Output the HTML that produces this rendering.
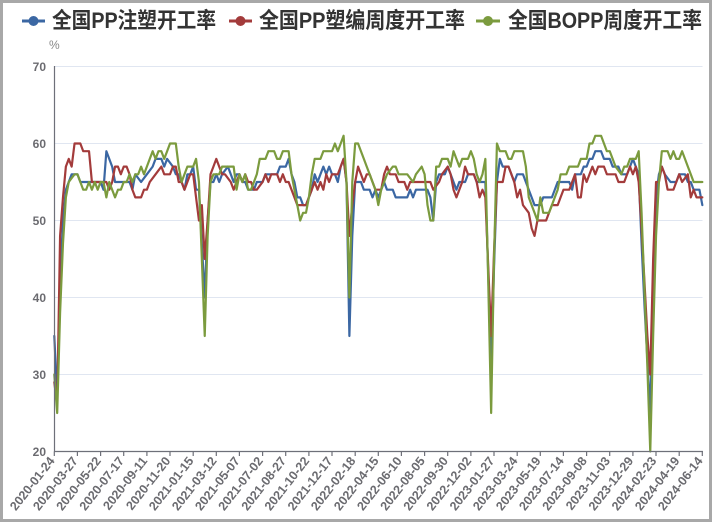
<!DOCTYPE html>
<html><head><meta charset="utf-8"><style>
html,body{margin:0;padding:0;background:#fff;}
svg{display:block;}
.yl{font-family:"Liberation Sans",sans-serif;font-size:12px;font-weight:bold;fill:#6b6b70;}
.xl{font-family:"Liberation Sans",sans-serif;font-size:12.5px;font-weight:bold;fill:#6b6b70;}
.lg{font-family:"Liberation Sans","Noto Sans CJK SC",sans-serif;font-size:22px;font-weight:bold;fill:#333;}
.s{fill:none;stroke-width:2.2;stroke-linejoin:round;stroke-linecap:round;vector-effect:non-scaling-stroke;}
</style></head><body>
<svg width="712" height="522" viewBox="0 0 712 522" xmlns="http://www.w3.org/2000/svg">
<rect x="0" y="0" width="712" height="522" fill="#fff"/>
<rect x="1.5" y="1.5" width="709" height="519" fill="none" stroke="#a8a8a8" stroke-width="3"/>

<!-- legend -->
<line x1="22" y1="21" x2="45" y2="21" stroke="#3b67a3" stroke-width="3"/>
<circle cx="33.5" cy="21" r="5" fill="#3b67a3"/>
<text class="lg" x="52" y="28" textLength="164" lengthAdjust="spacingAndGlyphs">全国PP注塑开工率</text>
<line x1="229" y1="21" x2="252" y2="21" stroke="#a33b3b" stroke-width="3"/>
<circle cx="240.5" cy="21" r="5" fill="#a33b3b"/>
<text class="lg" x="259" y="28" textLength="206" lengthAdjust="spacingAndGlyphs">全国PP塑编周度开工率</text>
<line x1="476" y1="21" x2="500" y2="21" stroke="#7b9b3e" stroke-width="3"/>
<circle cx="488" cy="21" r="5" fill="#7b9b3e"/>
<text class="lg" x="508" y="28" textLength="194" lengthAdjust="spacingAndGlyphs">全国BOPP周度开工率</text>

<text x="49" y="49" font-family="Liberation Sans,sans-serif" font-size="12" fill="#888">%</text>

<!-- grid -->
<g stroke="#e0e6f1" stroke-width="1">
<line x1="54.5" y1="66.5" x2="702.5" y2="66.5"/>
<line x1="54.5" y1="143.5" x2="702.5" y2="143.5"/>
<line x1="54.5" y1="220.5" x2="702.5" y2="220.5"/>
<line x1="54.5" y1="297.5" x2="702.5" y2="297.5"/>
<line x1="54.5" y1="374.5" x2="702.5" y2="374.5"/>
</g>
<!-- y labels -->
<g class="yl" text-anchor="end">
<text x="46" y="71">70</text>
<text x="46" y="148">60</text>
<text x="46" y="225">50</text>
<text x="46" y="302">40</text>
<text x="46" y="379">30</text>
<text x="46" y="456">20</text>
</g>

<!-- series -->
<g transform="matrix(2.893 0 0 -7.7 54.3 605.5)">
<polyline class="s" stroke="#3b67a3" points="0,35 1,27 2,42 3,50 4,54 5,55 6,56 8,56 9,55 16,55 17,54 18,59 20,57 21,55 26,55 27,54 28,56 30,55 32,56 34,57 35,58 37,58 38,57 39,58 41,57 42,56 43,56 44,55 45,54 46,56 47,56 48,57 49,54 50,54 51,47 52,40 53,50 54,55 55,55 56,56 57,55 58,56 60,57 61,56 62,55 63,56 64,56 65,55 66,55 67,54 69,54 70,55 72,55 73,56 77,56 78,57 80,57 81,58 82,56 83,55 84,53 85,53 86,52 87,52 88,53 89,54 90,56 91,55 92,56 93,57 94,56 95,57 96,56 97,56 98,55 99,57 100,58 101,55 102,35 103,48 104,55 106,55 107,54 109,54 110,53 111,54 112,53 113,54 114,55 115,54 117,54 118,53 122,53 123,54 124,53 125,54 129,54 130,53 131,50 132,55 133,56 135,56 136,57 137,56 138,55 139,54 140,55 142,55 143,56 145,56 146,55 149,55 150,43 151,30 152,44 153,55 154,58 155,57 157,57 158,56 159,55 160,56 162,56 163,55 164,54 165,53 166,52 168,52 169,53 172,53 173,54 174,55 178,55 179,54 180,56 182,56 183,57 184,57 185,58 186,58 187,59 189,59 190,58 192,58 193,57 195,57 196,56 198,56 199,57 200,58 201,57 202,56 203,47 204,39 205,32 206,25 207,40 208,53 209,56 210,57 211,56 213,55 215,55 216,56 218,56 219,55 220,55 221,54 223,54 224,52"/>
<polyline class="s" stroke="#a33b3b" points="0,29 1,26 2,48 3,53 4,57 5,58 6,57 7,60 9,60 10,59 12,59 13,55 18,55 19,54 20,55 21,57 22,57 23,56 24,57 25,57 26,56 27,54 28,53 30,53 31,54 32,54 33,55 35,56 36,56.5 37,57 38,56 40,56 41,57 42,57 43,55 44,55 45,54 46,55 47,56 48,56 49,53 50,50 51,52 52,45 53,50 54,56 55,57 56,58 57,57 58,56 59,56 61,55 62,54 63,55 64,56 65,55 66,56 67,55 68,55 69,54 70,54 72,55 73,56 74,55 75,56 77,56 78,55 79,56 80,55 81,55 82,54 83,53 84,52 87,52 88,53 89,54 90,55 91,54 92,55 93,54 94,56 95,55 96,56 98,56 99,57 100,58 101,55 102,48 103,52 104,55 105,57 106,56 107,55 108,56 109,56 110,55 111,54 113,54 114,56 115,57 116,56 118,56 119,55 121,55 122,54 123,55 130,55 131,54 133,55 134,56 136,57 137,56 138,54 139,53 140,54 141,55 142,57 143,56 145,56 146,55 147,53 148,54 149,53 150,44 151,35 152,46 153,55 155,55 156,57 157,57 158,56 159,55 160,53 161,54 162,52 163,51.5 164,51 165,49 166,48 167,50 170,50 171,51 172,52 174,52 175,53 176,54 178,54 179,55 180,56 181,53 182,53 183,56 184,55 185,56 186,57 187,56 188,57 190,57 191,56 194,56 195,55 197,55 198,56 199,57 200,56 201,57 202,55 203,49 204,42 205,35 206,30 207,45 208,55 209,55 210,57 211,56 212,54 214,54 215,55 216,56 217,55 219,56 220,53 221,54 222,53 224,53"/>
<polyline class="s" stroke="#7b9b3e" points="0,30 1,25 2,38 3,47 4,53 5,55 6,55.5 7,56 8,56 9,55 10,54 11,54 12,55 13,54 14,55 15,54 16,55 17,55 18,53 19,55 20,54 21,53 22,54 23,54 24,55 25,55 26,56 27,55 28,56 29,56 30,57 31,56 32,57 33,58 34,59 35,58 36,59 37,59 38,58 39,59 40,60 42,60 43,57 44,55 45,56 46,57 48,57 49,58 50,55 51,45 52,35 53,48 54,55 55,56 57,56 58,57 62,57 63,54 64,56 65,55 66,56 67,54 68,54 70,56 71,58 73,58 74,59 76,59 77,58 78,58 79,59 81,59 82,56 83,54 84,52 85,50 86,51 87,51 88,53 89,56 90,58 92,58 93,59 96,59 97,60 98,59 99,60 100,61 101,55 102,40 103,55 104,60 105,60 106,59 107,58 108,57 109,56 110,55 111,54 112,52 113,54 114,55 115,56 117,57 118,57 119,56 122,56 123,55.5 124,55 125,56 127,57 128,56 129,52 130,50 131,50 132,57 133,57 134,58 136,58 137,57 138,59 139,58 140,57 141,58 143,58 144,59 145,58 146,56 147,55 148,56 149,58 150,42 151,25 152,45 153,60 154,59 156,59 157,58 158,58 159,59 162,59 163,57 164,53 165,52 166,51 167,50 168,53 169,51 171,51 172,52 173,53 174,54 175,56 177,56 178,57 181,57 182,58 184,58 185,60 186,60 187,61 189,61 190,60 191,59 192,59 193,58 194,57 196,56 197,57 198,57 199,58 201,58 202,59 203,51 204,41 205,31 206,20 207,35 208,48 209,55 210,59 212,59 213,58 214,59 215,58 216,58 217,59 218,58 219,57 220,56 221,55 224,55"/>
</g>

<!-- axes -->
<line x1="54.5" y1="66" x2="54.5" y2="452" stroke="#6e7079" stroke-width="1.2"/>
<line x1="54" y1="451.5" x2="703" y2="451.5" stroke="#6e7079" stroke-width="1.2"/>
<g stroke="#6e7079" stroke-width="1.2">
<line x1="54.3" y1="451.5" x2="54.3" y2="456"/>
<line x1="77.4" y1="451.5" x2="77.4" y2="456"/>
<line x1="100.6" y1="451.5" x2="100.6" y2="456"/>
<line x1="123.7" y1="451.5" x2="123.7" y2="456"/>
<line x1="146.9" y1="451.5" x2="146.9" y2="456"/>
<line x1="170.0" y1="451.5" x2="170.0" y2="456"/>
<line x1="193.2" y1="451.5" x2="193.2" y2="456"/>
<line x1="216.3" y1="451.5" x2="216.3" y2="456"/>
<line x1="239.4" y1="451.5" x2="239.4" y2="456"/>
<line x1="262.6" y1="451.5" x2="262.6" y2="456"/>
<line x1="285.7" y1="451.5" x2="285.7" y2="456"/>
<line x1="308.9" y1="451.5" x2="308.9" y2="456"/>
<line x1="332.0" y1="451.5" x2="332.0" y2="456"/>
<line x1="355.2" y1="451.5" x2="355.2" y2="456"/>
<line x1="378.3" y1="451.5" x2="378.3" y2="456"/>
<line x1="401.4" y1="451.5" x2="401.4" y2="456"/>
<line x1="424.6" y1="451.5" x2="424.6" y2="456"/>
<line x1="447.7" y1="451.5" x2="447.7" y2="456"/>
<line x1="470.9" y1="451.5" x2="470.9" y2="456"/>
<line x1="494.0" y1="451.5" x2="494.0" y2="456"/>
<line x1="517.2" y1="451.5" x2="517.2" y2="456"/>
<line x1="540.3" y1="451.5" x2="540.3" y2="456"/>
<line x1="563.4" y1="451.5" x2="563.4" y2="456"/>
<line x1="586.6" y1="451.5" x2="586.6" y2="456"/>
<line x1="609.7" y1="451.5" x2="609.7" y2="456"/>
<line x1="632.9" y1="451.5" x2="632.9" y2="456"/>
<line x1="656.0" y1="451.5" x2="656.0" y2="456"/>
<line x1="679.2" y1="451.5" x2="679.2" y2="456"/>
<line x1="702.3" y1="451.5" x2="702.3" y2="456"/>
</g>

<!-- x labels -->
<g class="xl" text-anchor="end">
<text transform="translate(55.3,461) rotate(-52)">2020-01-24</text>
<text transform="translate(78.4,461) rotate(-52)">2020-03-27</text>
<text transform="translate(101.6,461) rotate(-52)">2020-05-22</text>
<text transform="translate(124.7,461) rotate(-52)">2020-07-17</text>
<text transform="translate(147.9,461) rotate(-52)">2020-09-11</text>
<text transform="translate(171.0,461) rotate(-52)">2020-11-20</text>
<text transform="translate(194.2,461) rotate(-52)">2021-01-15</text>
<text transform="translate(217.3,461) rotate(-52)">2021-03-12</text>
<text transform="translate(240.4,461) rotate(-52)">2021-05-07</text>
<text transform="translate(263.6,461) rotate(-52)">2021-07-02</text>
<text transform="translate(286.7,461) rotate(-52)">2021-08-27</text>
<text transform="translate(309.9,461) rotate(-52)">2021-10-22</text>
<text transform="translate(333.0,461) rotate(-52)">2021-12-17</text>
<text transform="translate(356.2,461) rotate(-52)">2022-02-18</text>
<text transform="translate(379.3,461) rotate(-52)">2022-04-15</text>
<text transform="translate(402.4,461) rotate(-52)">2022-06-10</text>
<text transform="translate(425.6,461) rotate(-52)">2022-08-05</text>
<text transform="translate(448.7,461) rotate(-52)">2022-09-30</text>
<text transform="translate(471.9,461) rotate(-52)">2022-12-02</text>
<text transform="translate(495.0,461) rotate(-52)">2023-01-27</text>
<text transform="translate(518.2,461) rotate(-52)">2023-03-24</text>
<text transform="translate(541.3,461) rotate(-52)">2023-05-19</text>
<text transform="translate(564.4,461) rotate(-52)">2023-07-14</text>
<text transform="translate(587.6,461) rotate(-52)">2023-09-08</text>
<text transform="translate(610.7,461) rotate(-52)">2023-11-03</text>
<text transform="translate(633.9,461) rotate(-52)">2023-12-29</text>
<text transform="translate(657.0,461) rotate(-52)">2024-02-23</text>
<text transform="translate(680.2,461) rotate(-52)">2024-04-19</text>
<text transform="translate(703.3,461) rotate(-52)">2024-06-14</text>
</g>
</svg>
</body></html>
